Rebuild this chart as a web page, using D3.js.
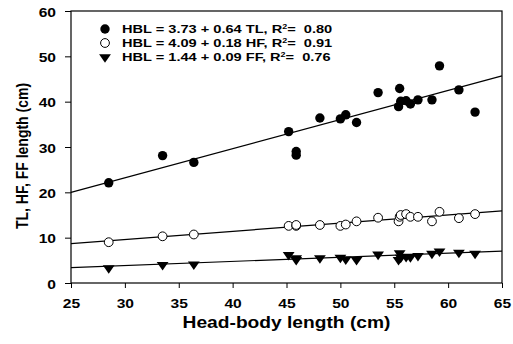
<!DOCTYPE html>
<html><head><meta charset="utf-8">
<script src="https://cdn.jsdelivr.net/npm/d3@7"></script>
<style>
html,body{margin:0;padding:0;background:#fff;}
svg text{font-family:"Liberation Sans",Arial,sans-serif;font-weight:bold;fill:#000;white-space:pre;}
</style></head>
<body><svg id="chart" width="513" height="344"></svg>
<script>
// Data
const hbl = [28.5, 33.5, 36.4, 45.2, 45.9, 45.9, 48.1, 50.0, 50.5, 51.5, 53.5, 55.4, 55.5, 55.6, 56.1, 56.5, 57.2, 58.5, 59.2, 61.0, 62.5];
const tl  = [22.1, 28.1, 26.6, 33.4, 29.0, 28.2, 36.4, 36.2, 37.1, 35.4, 42.0, 38.9, 42.9, 40.1, 40.2, 39.5, 40.4, 40.4, 47.9, 42.6, 37.7];
const hf  = [9.0, 10.3, 10.7, 12.6, 12.6, 12.8, 12.8, 12.6, 12.9, 13.6, 14.4, 13.6, 14.6, 15.0, 15.2, 14.6, 14.6, 13.6, 15.7, 14.3, 15.2];
const ff  = [3.3, 4.0, 4.1, 6.2, 5.5, 5.1, 5.5, 5.6, 5.2, 5.1, 6.3, 5.1, 6.6, 5.6, 5.8, 5.7, 6.0, 6.5, 7.0, 6.7, 6.5];
// Fitted line end points ([x, y] at left and right edge)
const fitTL = [[25, 20.0], [65, 45.7]];
const fitHF = [[25, 8.7], [65, 15.9]];
const fitFF = [[25, 3.4], [65, 7.05]];
const legendLabels = [
  ["HBL = 3.73 + 0.64 TL, R", "2", "=  0.80"],
  ["HBL = 4.09 + 0.18 HF, R", "2", "=  0.91"],
  ["HBL = 1.44 + 0.09 FF, R", "2", "=  0.76"]
];
const xTicks = [25, 30, 35, 40, 45, 50, 55, 60, 65];
const yTicks = [0, 10, 20, 30, 40, 50, 60];
const xTitle = "Head-body length (cm)";
const yTitle = "TL, HF, FF length (cm)";

const svg = d3.select("#chart");
const L = 71, R = 502, T = 11, B = 283;
const SX = 1.2; // horizontal stretch of the reference text
const x = d3.scaleLinear().domain([25, 65]).range([L, R]);
const y = d3.scaleLinear().domain([0, 60]).range([B, T]);

// frame
svg.append("rect").attr("x", L).attr("y", T).attr("width", R - L).attr("height", B - T)
  .attr("fill", "none").attr("stroke", "#000").attr("stroke-width", 1.2);

// x axis
const xa = svg.append("g").attr("transform", `translate(0,${B})`)
  .call(d3.axisBottom(x).tickValues(xTicks).tickSize(5).tickSizeOuter(0).tickFormat(d3.format("d")));
xa.select(".domain").remove();
xa.selectAll("line").attr("stroke", "#000");
xa.selectAll("text").attr("font-size", 13).attr("y", 0).attr("dy", 0)
  .attr("transform", `translate(0,25) scale(${SX},1)`);

// y axis
const ya = svg.append("g").attr("transform", `translate(${L},0)`)
  .call(d3.axisLeft(y).tickValues(yTicks).tickSize(6).tickSizeOuter(0).tickFormat(d3.format("d")));
ya.select(".domain").remove();
ya.selectAll("line").attr("stroke", "#000");
ya.selectAll("text").attr("font-size", 13).attr("x", 0).attr("dy", 0)
  .attr("transform", `translate(-15,5) scale(${SX},1)`);

// titles
svg.append("text").attr("font-size", 16).attr("text-anchor", "middle")
  .attr("transform", `translate(${(L + R) / 2},328) scale(${SX},1)`).text(xTitle);
svg.append("text").attr("font-size", 14).attr("text-anchor", "middle")
  .attr("transform", `translate(28,156) scale(${SX},1) rotate(-90)`).text(yTitle);

// fit lines
const line = d3.line().x(d => x(d[0])).y(d => y(d[1]));
[fitTL, fitHF, fitFF].forEach(f => {
  svg.append("path").attr("d", line(f)).attr("fill", "none").attr("stroke", "#000").attr("stroke-width", 1.2);
});

const tri = d3.symbol().type(d3.symbolTriangle).size(42);
function drawMarker(g, kind, cx, cy) {
  if (kind === 0) {
    g.append("circle").attr("cx", cx).attr("cy", cy).attr("r", 4.7).attr("fill", "#000");
  } else if (kind === 1) {
    g.append("circle").attr("cx", cx).attr("cy", cy).attr("r", 4.4).attr("fill", "#fff")
      .attr("stroke", "#000").attr("stroke-width", 1);
  } else {
    g.append("path").attr("d", tri()).attr("fill", "#000")
      .attr("transform", `translate(${cx},${cy}) rotate(180) scale(1.2,1)`);
  }
}

const pts = svg.append("g");
[ff, hf, tl].forEach((series, i) => {
  const kind = 2 - i;
  series.forEach((v, j) => drawMarker(pts, kind, x(hbl[j]), y(v)));
});

// legend
const leg = svg.append("g");
legendLabels.forEach((lab, i) => {
  const cy = 29 + i * 14;
  drawMarker(leg, i, 105, cy);
  const t = leg.append("text").attr("font-size", 11.5)
    .attr("transform", `translate(122,${cy + 4}) scale(1.27,1)`);
  t.append("tspan").text(lab[0]);
  t.append("tspan").attr("font-size", 7).attr("dy", -4).text(lab[1]);
  t.append("tspan").attr("dy", 4).text(lab[2]);
});
</script></body></html>
